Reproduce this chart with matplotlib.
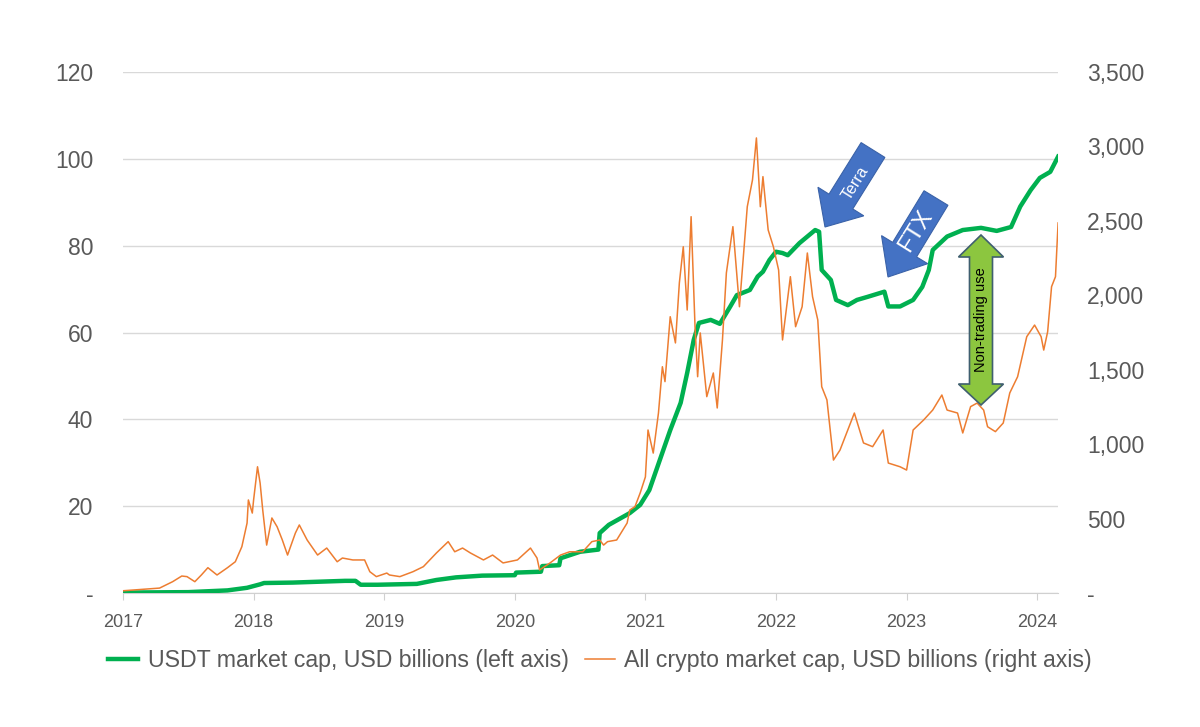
import numpy as np
import matplotlib
matplotlib.use('Agg')
import matplotlib.pyplot as plt
from matplotlib.patches import FancyArrow, Polygon

plt.rcParams['font.family'] = ['Liberation Sans', 'DejaVu Sans']

# USDT market cap, USD billions (left axis) -- decimal years
usdt_t = [2017.00, 2017.50, 2017.80, 2017.95, 2018.05, 2018.08, 2018.30, 2018.50,
          2018.70, 2018.78, 2018.82, 2018.95, 2019.25, 2019.40, 2019.55, 2019.75,
          2020.00, 2020.01, 2020.20, 2020.21, 2020.34, 2020.35, 2020.50, 2020.64,
          2020.65, 2020.72, 2020.88, 2020.96, 2021.03, 2021.11, 2021.19, 2021.27,
          2021.32, 2021.37, 2021.41, 2021.50, 2021.57, 2021.65, 2021.70, 2021.80,
          2021.86, 2021.90, 2021.95, 2022.00, 2022.05, 2022.09, 2022.18, 2022.30,
          2022.33, 2022.35, 2022.42, 2022.46, 2022.55, 2022.62, 2022.70, 2022.83,
          2022.86, 2022.95, 2023.05, 2023.12, 2023.17, 2023.20, 2023.31, 2023.43,
          2023.57, 2023.69, 2023.80, 2023.87, 2023.95, 2024.02, 2024.10, 2024.16]
usdt_v = [0.1, 0.2, 0.6, 1.2, 2.0, 2.3, 2.4, 2.6,
          2.8, 2.8, 1.9, 1.9, 2.1, 3.0, 3.6, 4.0,
          4.1, 4.7, 4.9, 6.2, 6.4, 8.0, 9.5, 10.0,
          13.8, 15.7, 18.4, 20.3, 23.7, 30.6, 37.5, 43.8,
          50.7, 58.3, 62.2, 62.9, 62.0, 66.0, 68.6, 69.8,
          72.9, 74.0, 76.7, 78.6, 78.3, 77.8, 80.6, 83.6,
          83.2, 74.4, 72.1, 67.5, 66.3, 67.5, 68.2, 69.4,
          66.0, 66.0, 67.5, 70.5, 74.4, 79.0, 82.1, 83.6,
          84.1, 83.4, 84.3, 89.0, 92.8, 95.6, 97.0, 100.5]

# All crypto market cap, USD billions (right axis)
crypto_t = [2017.00, 2017.28, 2017.38, 2017.45, 2017.49, 2017.55, 2017.60, 2017.65,
            2017.72, 2017.80, 2017.86, 2017.91, 2017.95, 2017.96, 2017.99, 2018.00,
            2018.03, 2018.05, 2018.07, 2018.10, 2018.14, 2018.18, 2018.22, 2018.26,
            2018.32, 2018.35, 2018.41, 2018.49, 2018.56, 2018.64, 2018.68, 2018.76,
            2018.85, 2018.89, 2018.94, 2019.02, 2019.04, 2019.12, 2019.22, 2019.30,
            2019.40, 2019.49, 2019.54, 2019.60, 2019.66, 2019.76, 2019.83, 2019.91,
            2020.02, 2020.12, 2020.17, 2020.19, 2020.27, 2020.35, 2020.42, 2020.52,
            2020.59, 2020.65, 2020.68, 2020.71, 2020.78, 2020.86, 2020.88, 2020.92,
            2020.96, 2021.00, 2021.02, 2021.06, 2021.10, 2021.13, 2021.15, 2021.19,
            2021.23, 2021.26, 2021.29, 2021.32, 2021.35, 2021.38, 2021.40, 2021.42,
            2021.47, 2021.52, 2021.55, 2021.59, 2021.62, 2021.67, 2021.72, 2021.78,
            2021.82, 2021.85, 2021.88, 2021.90, 2021.94, 2021.98, 2022.02, 2022.05,
            2022.11, 2022.15, 2022.20, 2022.24, 2022.28, 2022.32, 2022.35, 2022.39,
            2022.44, 2022.49, 2022.55, 2022.60, 2022.67, 2022.74, 2022.82, 2022.86,
            2022.95, 2023.00, 2023.05, 2023.13, 2023.20, 2023.27, 2023.31, 2023.39,
            2023.43, 2023.49, 2023.54, 2023.59, 2023.62, 2023.68, 2023.74, 2023.79,
            2023.85, 2023.92, 2023.98, 2024.03, 2024.05, 2024.08, 2024.11, 2024.14,
            2024.16]
crypto_v = [15, 33, 76, 114, 110, 76, 121, 170,
            121, 170, 210, 311, 470, 625, 537, 625,
            848, 738, 557, 322, 504, 445, 356, 255,
            403, 457, 356, 255, 302, 210, 235, 222,
            222, 143, 110, 134, 121, 110, 143, 177,
            269, 345, 277, 302, 269, 222, 255, 202,
            222, 302, 235, 155, 202, 255, 277, 277,
            345, 356, 322, 345, 356, 470, 557, 580,
            672, 780, 1095, 940, 1209, 1520, 1420, 1856,
            1680, 2083, 2326, 1901, 2528, 1789, 1453, 1747,
            1319, 1478, 1243, 1700, 2150, 2461, 1923, 2595,
            2775, 3057, 2595, 2797, 2439, 2326, 2170, 1700,
            2125, 1789, 1923, 2284, 1990, 1834, 1386, 1297,
            893, 960, 1095, 1209, 1008, 983, 1095, 873,
            848, 826, 1095, 1162, 1229, 1330, 1229, 1209,
            1075, 1252, 1276, 1229, 1117, 1084, 1142, 1344,
            1453, 1722, 1800, 1722, 1632, 1755, 2058, 2125,
            2486]

years = list(range(2017, 2025))
left_ticks = [0, 20, 40, 60, 80, 100, 120]
right_ticks = [0, 500, 1000, 1500, 2000, 2500, 3000, 3500]

GREEN = '#00B050'
ORANGE = '#ED7D31'
GREY = '#595959'

fig = plt.figure(figsize=(12, 7.27), dpi=100)
ax = fig.add_axes([123/1200, 1 - 593/727, (1058 - 123)/1200, (593 - 72)/727])
ax2 = ax.twinx()

ax.plot(usdt_t, usdt_v, color=GREEN, lw=3.2, solid_joinstyle='round',
        label='USDT market cap, USD billions (left axis)', zorder=3)
ax2.plot(crypto_t, crypto_v, color=ORANGE, lw=1.1,
         label='All crypto market cap, USD billions (right axis)')

ax.set_xlim(2017, 2017 + (1058 - 123)/130.6)
ax.set_ylim(0, 120)
ax2.set_ylim(0, 3500)

ax.set_yticks(left_ticks)
ax.set_yticklabels(['-' if v == 0 else f'{v}' for v in left_ticks])
ax2.set_yticks(right_ticks)
ax2.set_yticklabels(['-' if v == 0 else f'{v:,}' for v in right_ticks])
ax.set_xticks(years)
ax.set_xticklabels([str(y) for y in years])

ax.grid(axis='y', color='#d9d9d9', lw=1)
ax.set_axisbelow(True)
for a in (ax, ax2):
    for s in ('top', 'left', 'right'):
        a.spines[s].set_visible(False)
    a.spines['bottom'].set_color('#d0d0d0')
ax2.spines['bottom'].set_visible(False)
ax.tick_params(axis='y', length=0, pad=21.5, labelsize=16.5, labelcolor=GREY)
ax2.tick_params(axis='y', length=0, pad=21, labelsize=16.5, labelcolor=GREY)
ax.tick_params(axis='x', length=5, color='#d0d0d0', pad=10, labelsize=13, labelcolor=GREY)

h1, l1 = ax.get_legend_handles_labels()
h2, l2 = ax2.get_legend_handles_labels()
fig.legend(h1 + h2, l1 + l2, loc='center', bbox_to_anchor=(600/1200, 1 - 661/727),
           ncol=2, frameon=False, fontsize=16.7, labelcolor=GREY,
           handlelength=1.3, handletextpad=0.4, columnspacing=0.7)

# annotation layer in pixel coordinates
ov = fig.add_axes([0, 0, 1, 1], zorder=10)
ov.set_xlim(0, 1200)
ov.set_ylim(727, 0)
ov.axis('off')
ov.patch.set_alpha(0)

BLUE = '#4472C4'
ov.add_patch(FancyArrow(873, 150, -48, 77, width=28, head_width=54, head_length=30,
                        length_includes_head=True, fc=BLUE, ec='#3a62a8', lw=0.8))
ov.add_patch(FancyArrow(936, 198, -48, 79, width=28, head_width=54, head_length=32,
                        length_includes_head=True, fc=BLUE, ec='#3a62a8', lw=0.8))
ov.text(855, 183, 'Terra', color='white', fontsize=11.5, rotation=58,
        ha='center', va='center')
ov.text(916, 231, 'FTX', color='white', fontsize=17, rotation=58,
        ha='center', va='center')

cx = 981
pts = [(cx, 235), (cx - 22.5, 257), (cx - 11.5, 257), (cx - 11.5, 384),
       (cx - 22.5, 384), (cx, 405), (cx + 22.5, 384), (cx + 11.5, 384),
       (cx + 11.5, 257), (cx + 22.5, 257)]
ov.add_patch(Polygon(pts, closed=True, fc='#8CC63F', ec='#3f5f6f', lw=1.2))
ov.text(cx + 0.5, 320, 'Non-trading use', color='black', fontsize=10.5, rotation=90,
        ha='center', va='center')

fig.savefig('out.png', dpi=100)
